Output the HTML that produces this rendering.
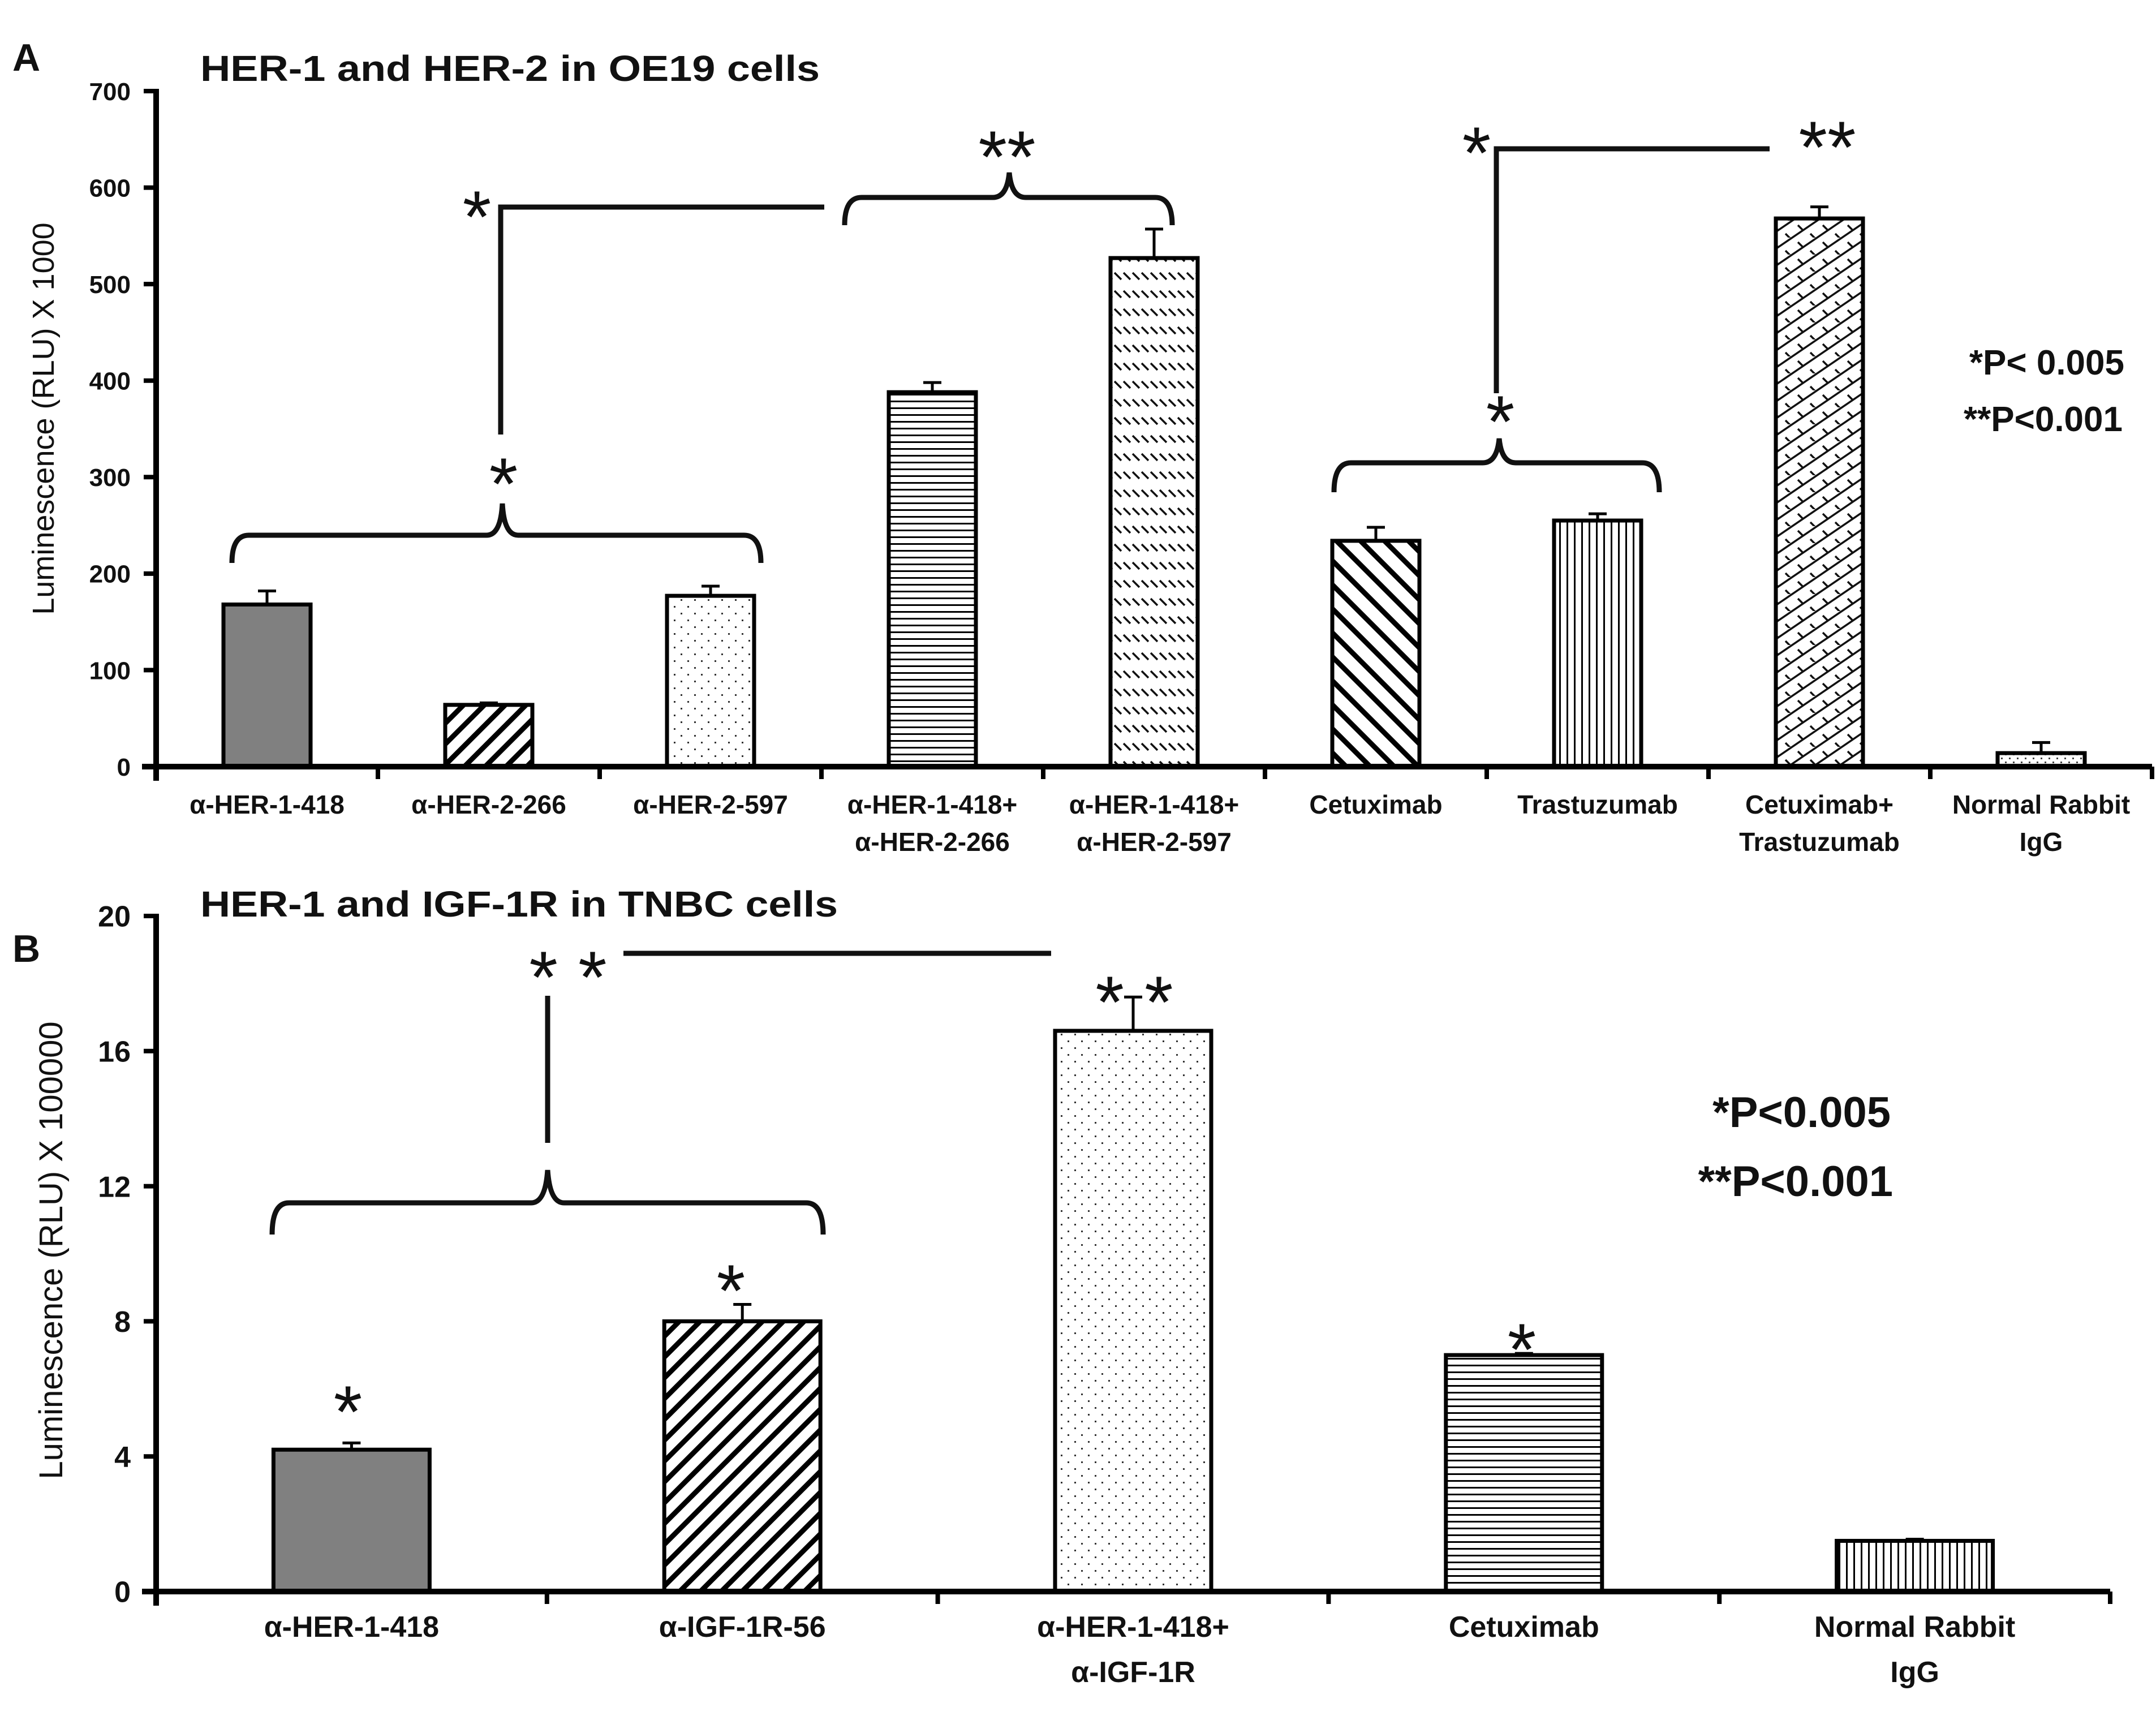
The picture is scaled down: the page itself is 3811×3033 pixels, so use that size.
<!DOCTYPE html>
<html><head><meta charset="utf-8"><style>
html,body{margin:0;padding:0;background:#fff}
svg{display:block}
text{font-family:"Liberation Sans",sans-serif;fill:#111}
</style></head><body>
<svg id="chart" width="3811" height="3033" viewBox="0 0 3811 3033" xmlns="http://www.w3.org/2000/svg">
<defs>
<pattern id="p-diag" patternUnits="userSpaceOnUse" width="26" height="26" patternTransform="rotate(45)"><rect width="26" height="26" fill="#fff"/><rect x="0" y="0" width="9" height="26" fill="#000"/></pattern>
<pattern id="p-dots" patternUnits="userSpaceOnUse" width="24" height="24"><rect width="24" height="24" fill="#fff"/><rect x="3" y="3" width="3" height="3" fill="#333"/><rect x="15" y="15" width="3" height="3" fill="#333"/></pattern>
<pattern id="p-dots2" patternUnits="userSpaceOnUse" width="14" height="14"><rect width="14" height="14" fill="#fff"/><rect x="2" y="2" width="3" height="3" fill="#444"/><rect x="9" y="9" width="3" height="3" fill="#444"/></pattern>
<pattern id="p-horiz" patternUnits="userSpaceOnUse" width="12" height="12"><rect width="12" height="12" fill="#fff"/><rect y="0" width="12" height="3" fill="#000"/></pattern>
<pattern id="p-vert" patternUnits="userSpaceOnUse" width="13" height="13"><rect width="13" height="13" fill="#fff"/><rect x="0" width="3" height="13" fill="#000"/></pattern>
<pattern id="p-dash" patternUnits="userSpaceOnUse" width="16" height="32"><rect width="16" height="32" fill="#fff"/><path d="M2,2 L14,14" stroke="#111" stroke-width="3.5"/></pattern>
<pattern id="p-back" patternUnits="userSpaceOnUse" width="30" height="30" patternTransform="rotate(-45)"><rect width="30" height="30" fill="#fff"/><rect x="0" width="9" height="30" fill="#000"/></pattern>
<pattern id="p-cross" patternUnits="userSpaceOnUse" width="44" height="30"><rect width="44" height="30" fill="#fff"/><path d="M0,30 L44,0 M-22,15 L22,-15 M22,45 L66,15" stroke="#111" stroke-width="3.5"/><path d="M10,8 L20,18 M32,23 L42,33" stroke="#111" stroke-width="3.5"/></pattern>
</defs>
<g id="panelA"></g>
<g id="panelB"></g>
</svg>
<script>
const catsA = [["α-HER-1-418"],["α-HER-2-266"],["α-HER-2-597"],["α-HER-1-418+","α-HER-2-266"],["α-HER-1-418+","α-HER-2-597"],["Cetuximab"],["Trastuzumab"],["Cetuximab+","Trastuzumab"],["Normal Rabbit","IgG"]];
const valsA = [168, 64, 177, 388, 527, 234, 255, 568, 14];
const errA = [182, 66, 187, 398, 557, 248, 262, 580, 25];
const ticksA = [0,100,200,300,400,500,600,700];
const fillsA = ["#808080","url(#p-diag)","url(#p-dots)","url(#p-horiz)","url(#p-dash)","url(#p-back)","url(#p-vert)","url(#p-cross)","url(#p-dots2)"];

const catsB = [["α-HER-1-418"],["α-IGF-1R-56"],["α-HER-1-418+","α-IGF-1R"],["Cetuximab"],["Normal Rabbit","IgG"]];
const valsB = [4.2, 8.0, 16.6, 7.0, 1.5];
const errB = [4.4, 8.5, 17.6, 7.05, 1.55];
const ticksB = [0,4,8,12,16,20];
const fillsB = ["#808080","url(#p-diag)","url(#p-dots)","url(#p-horiz)","url(#p-vert)"];

const NS="http://www.w3.org/2000/svg";
function mk(parent,tag,attrs,txt){const e=document.createElementNS(NS,tag);for(const k in attrs)e.setAttribute(k,attrs[k]);if(txt!==undefined)e.textContent=txt;parent.appendChild(e);return e;}

function drawPanel(g, cfg){
  const {cats,vals,errs,ticks,fills,x0,x1,y0,yTop,vmax,barW,labY,lineH,tickFs,labFs,key} = cfg;
  const cw=(x1-x0)/cats.length;
  const xs=i=>x0+cw*(i+0.5);
  const ys=v=>y0-(v/vmax)*(y0-yTop);
  vals.forEach((v,i)=>{
    const eb=mk(g,'line',{x1:xs(i),x2:xs(i),y1:ys(v),y2:ys(errs[i]),stroke:'#000','stroke-width':5});
    
    
    const cap=mk(g,'line',{x1:xs(i)-16,x2:xs(i)+16,y1:ys(errs[i]),y2:ys(errs[i]),stroke:'#000','stroke-width':5});
    
    
    const r=mk(g,'rect',{x:xs(i)-barW/2,y:ys(v),width:barW,height:y0-ys(v),fill:fills[i],stroke:'#000','stroke-width':7});
    
    
  });
  const ya=mk(g,'line',{x1:x0,x2:x0,y1:yTop-4,y2:y0+25,stroke:'#000','stroke-width':10});
  
  
  const xa=mk(g,'line',{x1:x0-25,x2:x1,y1:y0,y2:y0,stroke:'#000','stroke-width':10});
  
  
  ticks.forEach(t=>{
    const tl=mk(g,'line',{x1:x0-22,x2:x0,y1:ys(t),y2:ys(t),stroke:'#000','stroke-width':8});
    
    
    const tt=mk(g,'text',{x:x0-45,y:ys(t)+tickFs*0.36,'text-anchor':'end','font-size':tickFs,'font-weight':'bold',fill:'#222'},String(t));
    
    
  });
  for(let i=1;i<=cats.length;i++){
    const tk=mk(g,'line',{x1:x0+cw*i,x2:x0+cw*i,y1:y0,y2:y0+22,stroke:'#000','stroke-width':8});
    
    
  }
  cats.forEach((c,i)=>{
    c.forEach((ln,j)=>{
      const t=mk(g,'text',{x:xs(i),y:labY+j*lineH,'text-anchor':'middle','font-size':labFs,'font-weight':'bold',fill:'#222'},ln);
      
      
    });
  });
}

const gA=document.getElementById('panelA');
drawPanel(gA,{cats:catsA,vals:valsA,errs:errA,ticks:ticksA,fills:fillsA,x0:276,x1:3804,y0:1355,yTop:161,vmax:700,barW:154,labY:1438,lineH:66,tickFs:44,labFs:46,key:'a'});
const gB=document.getElementById('panelB');
drawPanel(gB,{cats:catsB,vals:valsB,errs:errB,ticks:ticksB,fills:fillsB,x0:276,x1:3730,y0:2813,yTop:1619,vmax:20,barW:276,labY:2893,lineH:80,tickFs:52,labFs:52,key:'b'});
</script>
<svg style="position:absolute;left:0;top:0" width="3811" height="3033" viewBox="0 0 3811 3033">
<g font-family="Liberation Sans, sans-serif" font-weight="bold" fill="#111">
<text x="22" y="125" font-size="68">A</text>
<text x="354" y="143" font-size="64" textLength="1095" lengthAdjust="spacingAndGlyphs">HER-1 and HER-2 in OE19 cells</text>
<text x="22" y="1700" font-size="68">B</text>
<text x="354" y="1620" font-size="64" textLength="1127" lengthAdjust="spacingAndGlyphs">HER-1 and IGF-1R in TNBC cells</text>
<text x="3755" y="662" font-size="62" text-anchor="end">*P&lt; 0.005</text>
<text x="3752" y="762" font-size="62" text-anchor="end">**P&lt;0.001</text>
<text x="3342" y="1992" font-size="76" text-anchor="end">*P&lt;0.005</text>
<text x="3346" y="2114" font-size="76" text-anchor="end">**P&lt;0.001</text>
</g>
<g fill="none" stroke="#111" stroke-width="9">
<path d="M410,995 Q410,946 440,946 L860,946 Q885,946 888,890 Q891,946 916,946 L1315,946 Q1345,946 1345,995"/>
<path d="M885,768 L885,366 L1457,366"/>
<path d="M1493,398 Q1493,349 1523,349 L1755,349 Q1780,349 1784,305 Q1788,349 1813,349 L2042,349 Q2072,349 2072,398"/>
<path d="M2358,870 Q2358,818 2388,818 L2621,818 Q2646,818 2650,775 Q2654,818 2679,818 L2903,818 Q2933,818 2933,870"/>
<path d="M2645,695 L2645,263 L3128,263"/>
<path d="M481,2182 Q481,2126 511,2126 L939,2126 Q964,2126 968,2068 Q972,2126 997,2126 L1425,2126 Q1455,2126 1455,2182"/>
<path d="M968,2020 L968,1760"/>
<path d="M1102,1685 L1858,1685"/>
</g>
<g font-family="Liberation Sans, sans-serif" font-size="130" fill="#111" text-anchor="middle">
<text x="890" y="900">*</text>
<text x="843" y="428">*</text>
<text x="1780" y="322">**</text>
<text x="2652" y="790">*</text>
<text x="2610" y="315">*</text>
<text x="3230" y="305">**</text>
<text x="1004" y="1772">* *</text>
<text x="615" y="2540">*</text>
<text x="1292" y="2326">*</text>
<text x="2005" y="1816">* *</text>
<text x="2690" y="2430">*</text>
</g>
<text transform="translate(95,740) rotate(-90)" text-anchor="middle" font-family="Liberation Sans, sans-serif" font-size="54" fill="#111">Luminescence (RLU) X 1000</text>
<text transform="translate(110,2210) rotate(-90)" text-anchor="middle" font-family="Liberation Sans, sans-serif" font-size="58" fill="#111">Luminescence (RLU) X 100000</text>
</svg>
</body></html>
